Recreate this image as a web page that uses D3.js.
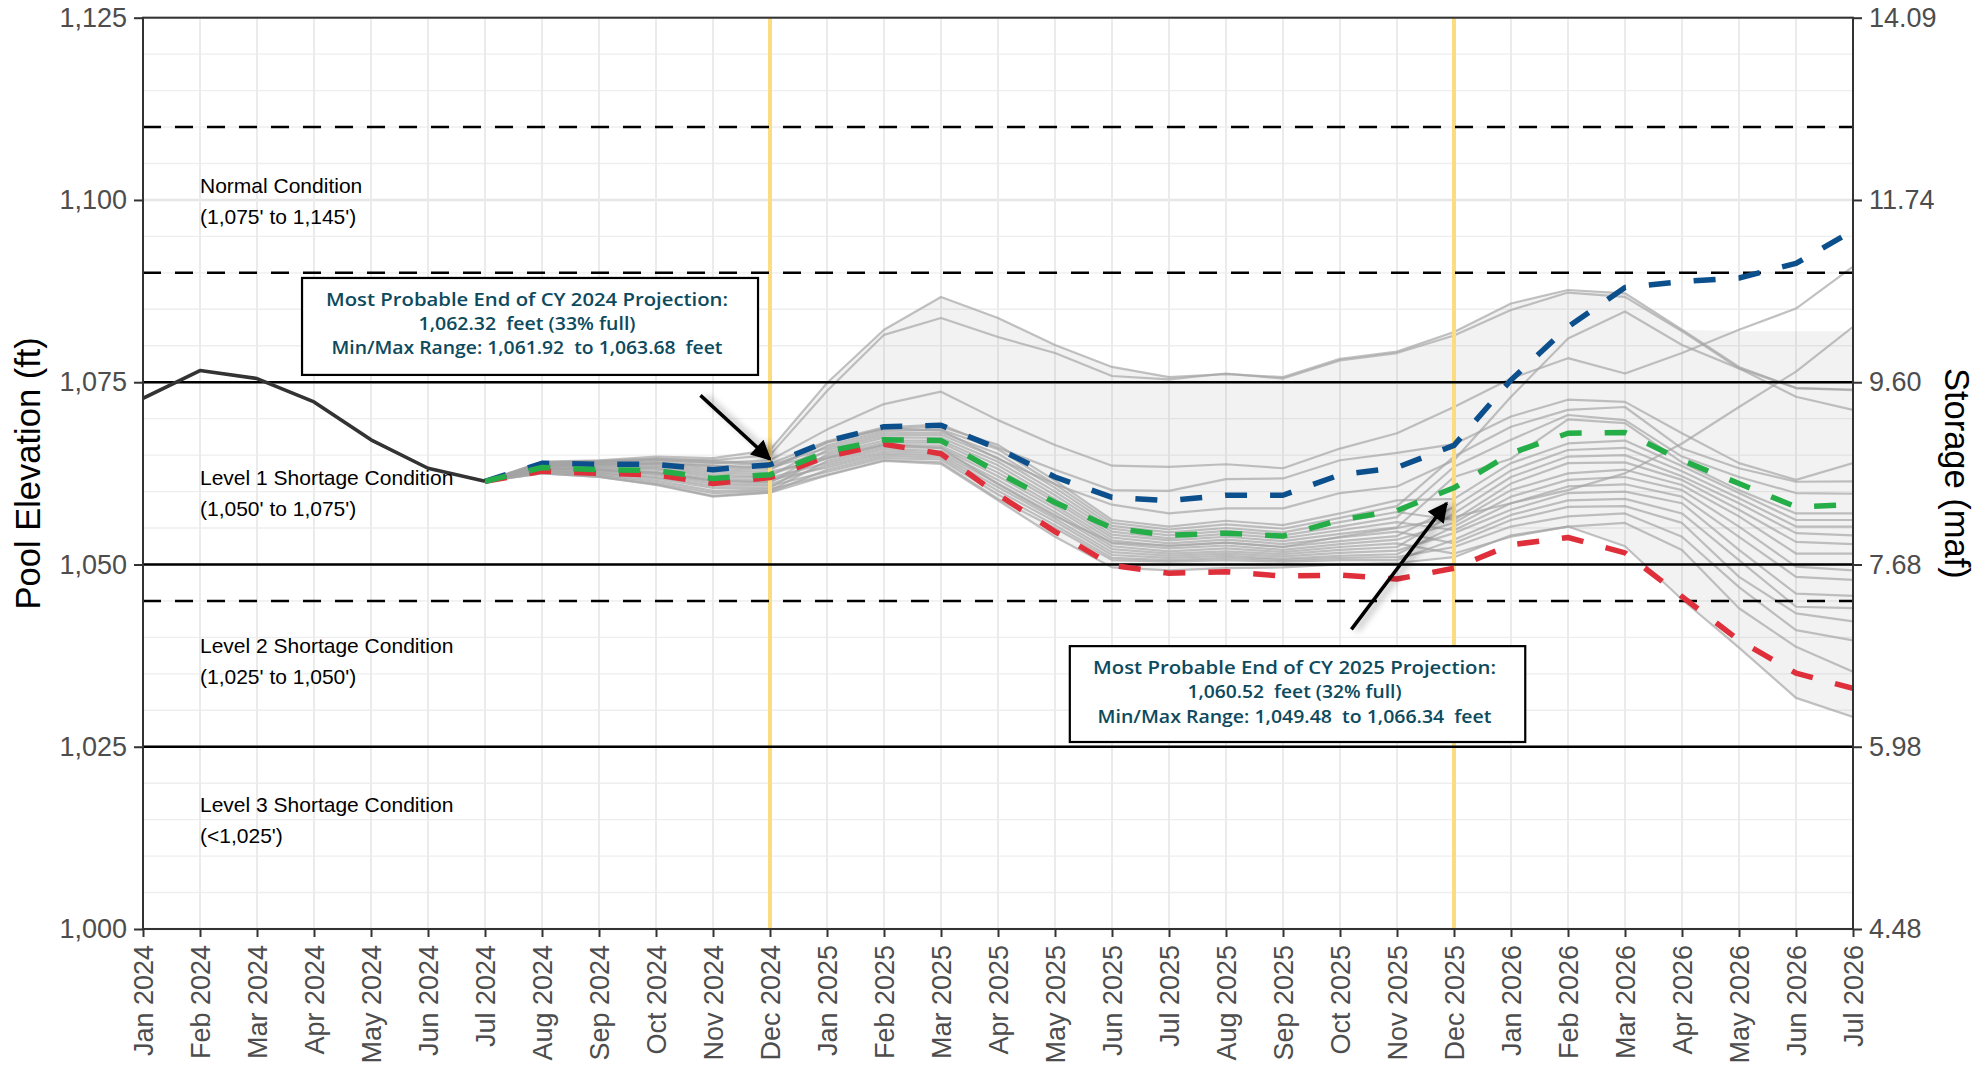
<!DOCTYPE html>
<html><head><meta charset="utf-8">
<script src="https://cdn.jsdelivr.net/npm/d3@7"></script>
<style>
body{margin:0;background:#fff;}
svg{display:block;}
</style></head><body>
<svg id="chart" width="1987" height="1069"></svg>
<script>
// ---------------- DATA ----------------
const months = ["Jan 2024","Feb 2024","Mar 2024","Apr 2024","May 2024","Jun 2024","Jul 2024","Aug 2024","Sep 2024","Oct 2024","Nov 2024","Dec 2024",
  "Jan 2025","Feb 2025","Mar 2025","Apr 2025","May 2025","Jun 2025","Jul 2025","Aug 2025","Sep 2025","Oct 2025","Nov 2025","Dec 2025",
  "Jan 2026","Feb 2026","Mar 2026","Apr 2026","May 2026","Jun 2026","Jul 2026"];
const elevTicks = [1000, 1025, 1050, 1075, 1100, 1125];
const storageLabels = ["4.48", "5.98", "7.68", "9.60", "11.74", "14.09"];
const solidRefs = [1075, 1050, 1025];
const dashedRefs = [1110, 1090, 1045];
const markerMonths = ["Dec 2024", "Dec 2025"];

// historical Jan 2024 - Jul 2024
const historical = [1072.8, 1076.6, 1075.5, 1072.3, 1067.1, 1063.2, 1061.4];
// projections Jul 2024 - Jul 2026
const projStart = "Jul 2024";
const maxProbable = [1061.4, 1063.87, 1063.74, 1063.74, 1063.0, 1063.68, 1066.9, 1068.9, 1069.1, 1065.9, 1062.0, 1059.2, 1058.75, 1059.5, 1059.5, 1062.3, 1063.3, 1066.34, 1075.3, 1082.6, 1088.0, 1088.8, 1089.3, 1091.3, 1095.8];
const mostProbable = [1061.4, 1063.3, 1063.0, 1062.9, 1061.8, 1062.32, 1065.5, 1067.1, 1067.0, 1062.6, 1058.5, 1055.0, 1054.0, 1054.3, 1053.9, 1056.1, 1057.4, 1060.52, 1065.25, 1068.0, 1068.1, 1064.3, 1061.1, 1057.9, 1058.2];
const minProbable = [1061.4, 1062.8, 1062.5, 1062.3, 1061.1, 1061.92, 1064.8, 1066.5, 1065.2, 1059.6, 1054.5, 1049.9, 1048.8, 1049.0, 1048.4, 1048.55, 1048.0, 1049.48, 1052.7, 1053.7, 1051.6, 1045.6, 1039.6, 1035.1, 1033.0];

const ribbonHigh = [1061.4, 1064.1, 1064.3, 1064.8, 1064.6, 1065.7, 1074.9, 1082.2, 1086.7, 1083.8, 1080.1, 1077.1, 1075.7, 1076.2, 1075.7, 1078.2, 1079.2, 1081.9, 1085.8, 1087.65, 1087.2, 1082.2, 1082.0, 1082.0, 1082.0];
const ribbonLow = [1061.4, 1062.5, 1062.0, 1060.9, 1059.3, 1059.85, 1062.2, 1064.2, 1063.8, 1058.8, 1053.8, 1049.6, 1049.2, 1049.5, 1049.6, 1050.0, 1050.2, 1051.0, 1053.8, 1055.2, 1052.5, 1045.2, 1038.6, 1031.7, 1029.1];

const traceT1 = [1061.4, 1064.1, 1064.3, 1064.8, 1064.6, 1065.7, 1074.9, 1082.2, 1086.7, 1083.8, 1080.1, 1077.1, 1075.7, 1076.1, 1075.7, 1078.2, 1079.2, 1081.9, 1085.8, 1087.65, 1087.2, 1082.2, 1077.1, 1074.2, 1074.0];
const traceT2 = [1061.4, 1063.9, 1064.1, 1064.5, 1064.3, 1065.0, 1073.8, 1081.5, 1083.8, 1081.2, 1079.0, 1075.85, 1075.4, 1076.2, 1075.5, 1078.0, 1079.0, 1081.4, 1084.9, 1087.3, 1086.7, 1082.0, 1076.9, 1073.0, 1071.2];
const traceU1 = [1061.4, 1063.8, 1064.0, 1064.3, 1063.9, 1064.3, 1068.5, 1072.0, 1073.7, 1069.8, 1066.4, 1063.55, 1063.4, 1063.75, 1063.2, 1065.9, 1068.0, 1071.6, 1075.5, 1078.3, 1076.2, 1079.0, 1082.2, 1085.1, 1090.85];
const traceT4 = [1061.4, 1063.6, 1063.7, 1063.9, 1063.5, 1063.2, 1066.8, 1068.6, 1068.4, 1064.5, 1061.0, 1058.2, 1057.0, 1057.7, 1057.7, 1059.8, 1060.7, 1064.3, 1073.0, 1081.0, 1084.7, 1080.1, 1076.9, 1074.2, 1073.9];
const traceT5 = [1061.4, 1063.2, 1063.0, 1062.6, 1061.5, 1061.3, 1064.6, 1066.4, 1066.0, 1061.0, 1056.6, 1053.0, 1052.6, 1053.0, 1052.4, 1053.8, 1055.0, 1056.5, 1058.4, 1060.2, 1062.5, 1066.6, 1071.6, 1076.45, 1082.6];
const traceL = [1061.4, 1062.5, 1062.0, 1060.9, 1059.3, 1059.85, 1062.2, 1064.2, 1063.8, 1058.8, 1053.8, 1049.6, 1049.2, 1049.5, 1049.6, 1050.0, 1050.2, 1051.0, 1054.0, 1055.2, 1052.5, 1045.2, 1038.6, 1031.7, 1029.1];
const traceB1 = [1061.4, 1064.0, 1064.2, 1064.5, 1064.2, 1063.8, 1066.9, 1068.8, 1069.2, 1066.0, 1063.0, 1060.2, 1060.1, 1061.7, 1061.8, 1064.3, 1065.3, 1066.5, 1070.3, 1072.6, 1072.3, 1068.0, 1063.9, 1061.6, 1063.9];
const traceB2 = [1061.4, 1063.7, 1063.8, 1063.8, 1063.2, 1063.0, 1066.7, 1068.6, 1068.9, 1066.4, 1061.5, 1056.1, 1055.2, 1056.0, 1055.4, 1057.0, 1058.8, 1059.0, 1063.9, 1066.6, 1067.0, 1063.5, 1059.8, 1056.1, 1056.1];
const traceB3 = [1061.4, 1063.5, 1063.3, 1063.2, 1062.3, 1062.1, 1066.3, 1068.3, 1068.5, 1065.8, 1061.0, 1055.7, 1054.8, 1055.5, 1054.9, 1056.4, 1058.0, 1064.8, 1068.9, 1071.2, 1071.6, 1065.9, 1063.2, 1061.35, 1061.4];
const traceB4 = [1061.4, 1064.0, 1064.1, 1064.3, 1064.0, 1063.6, 1066.0, 1068.0, 1068.1, 1065.2, 1060.5, 1055.3, 1054.4, 1055.0, 1054.4, 1055.8, 1057.2, 1056.1, 1061.1, 1063.9, 1064.0, 1061.6, 1057.5, 1053.1, 1052.8];
const traceB5 = [1061.4, 1063.2, 1062.9, 1062.5, 1061.4, 1061.3, 1065.7, 1067.7, 1067.8, 1064.6, 1060.0, 1054.9, 1054.0, 1054.6, 1054.0, 1055.2, 1056.5, 1063.4, 1067.1, 1070.5, 1069.8, 1064.8, 1062.0, 1059.8, 1059.7];
const traceB6 = [1061.4, 1063.8, 1063.9, 1064.0, 1063.6, 1063.3, 1065.4, 1067.4, 1067.4, 1064.1, 1059.5, 1054.5, 1053.6, 1054.2, 1053.6, 1054.7, 1055.8, 1054.7, 1058.4, 1060.7, 1061.0, 1059.3, 1053.8, 1048.3, 1047.9];
const traceB7 = [1061.4, 1062.8, 1062.5, 1061.8, 1060.5, 1060.5, 1065.1, 1067.0, 1067.0, 1063.6, 1059.0, 1054.1, 1053.3, 1053.8, 1053.2, 1054.2, 1055.1, 1062.0, 1064.5, 1069.9, 1069.4, 1064.0, 1060.2, 1057.0, 1057.0];
const traceB8 = [1061.4, 1063.5, 1063.5, 1063.4, 1062.6, 1062.4, 1064.8, 1066.7, 1066.7, 1063.1, 1058.6, 1053.7, 1052.9, 1053.4, 1052.8, 1053.7, 1054.5, 1052.9, 1056.1, 1057.9, 1058.0, 1055.7, 1048.3, 1043.3, 1042.2];
const traceB9 = [1061.4, 1063.6, 1063.6, 1063.6, 1062.9, 1062.7, 1064.5, 1066.4, 1066.3, 1062.6, 1058.1, 1053.3, 1052.5, 1053.0, 1052.4, 1053.2, 1053.9, 1057.9, 1062.9, 1065.7, 1066.0, 1062.8, 1059.1, 1055.2, 1055.2];
const traceB10 = [1061.4, 1062.6, 1062.2, 1061.2, 1059.8, 1060.1, 1064.2, 1066.1, 1066.0, 1062.1, 1057.7, 1052.9, 1052.2, 1052.6, 1052.0, 1052.8, 1053.4, 1055.7, 1060.2, 1062.5, 1063.0, 1060.9, 1056.6, 1051.5, 1051.5];
const traceB11 = [1061.4, 1063.3, 1063.2, 1063.0, 1062.0, 1061.9, 1063.9, 1065.8, 1065.6, 1061.6, 1057.2, 1052.5, 1051.8, 1052.2, 1051.7, 1052.4, 1052.9, 1051.5, 1053.8, 1055.2, 1055.7, 1052.0, 1044.0, 1038.7, 1035.3];
const traceB12 = [1061.4, 1063.0, 1062.8, 1062.3, 1061.1, 1061.0, 1063.6, 1065.5, 1065.3, 1061.1, 1056.8, 1052.1, 1051.5, 1051.8, 1051.4, 1052.0, 1052.4, 1057.0, 1062.0, 1064.8, 1065.0, 1062.1, 1058.4, 1054.3, 1054.0];
const traceB13 = [1061.4, 1063.2, 1063.0, 1062.7, 1061.7, 1061.6, 1063.3, 1065.2, 1065.0, 1060.6, 1056.3, 1051.7, 1051.2, 1051.5, 1051.1, 1051.6, 1051.9, 1054.3, 1057.5, 1059.8, 1060.0, 1058.4, 1052.0, 1046.0, 1045.7];
const traceB14 = [1061.4, 1062.5, 1062.0, 1061.0, 1059.4, 1059.9, 1063.0, 1064.9, 1064.7, 1060.1, 1055.9, 1051.3, 1050.9, 1051.2, 1050.8, 1051.2, 1051.4, 1055.2, 1059.3, 1061.6, 1062.0, 1060.2, 1055.2, 1049.7, 1049.2];
const traceB15 = [1061.4, 1062.9, 1062.6, 1062.0, 1060.8, 1060.8, 1062.7, 1064.6, 1064.4, 1059.6, 1055.4, 1050.9, 1050.6, 1050.9, 1050.6, 1050.9, 1051.0, 1052.4, 1055.2, 1056.6, 1057.0, 1053.8, 1046.9, 1041.0, 1039.6];
const traceB16 = [1061.4, 1062.8, 1062.3, 1061.5, 1060.1, 1060.3, 1062.3, 1064.3, 1064.0, 1059.0, 1055.0, 1050.6, 1050.4, 1050.6, 1050.4, 1050.6, 1050.6, 1053.4, 1056.8, 1058.8, 1059.0, 1057.0, 1050.6, 1044.2, 1044.0];

const conditionNames = ["Normal Condition", "Level 1 Shortage Condition", "Level 2 Shortage Condition", "Level 3 Shortage Condition"];
const conditionRanges = ["(1,075' to 1,145')", "(1,050' to 1,075')", "(1,025' to 1,050')", "(<1,025')"];
const conditionElev = [1100.9, 1060.9, 1037.8, 1016.1];

const box1Lines = ["Most Probable End of CY 2024 Projection:", "1,062.32  feet (33% full)", "Min/Max Range: 1,061.92  to 1,063.68  feet"];
const box2Lines = ["Most Probable End of CY 2025 Projection:", "1,060.52  feet (32% full)", "Min/Max Range: 1,049.48  to 1,066.34  feet"];

// ---------------- LAYOUT ----------------
const grayTraces = [traceT1, traceT2, traceU1, traceT4, traceT5, traceL, traceB1, traceB2, traceB3, traceB4, traceB5, traceB6,
  traceB7, traceB8, traceB9, traceB10, traceB11, traceB12, traceB13, traceB14, traceB15, traceB16];
const p0 = months.indexOf(projStart);
const FONT = '"Liberation Sans", Arial, sans-serif';

const svg = d3.select("#chart");
const L = 143, R = 1853, T = 17.7, B = 929;
const x = d3.scaleLinear().domain([0, months.length - 1]).range([L, R]);
const y = d3.scaleLinear().domain([1000, 1125]).range([B, T]);

const defs = svg.append("defs");
defs.append("clipPath").attr("id", "plotclip").append("rect")
  .attr("x", L).attr("y", T).attr("width", R - L).attr("height", B - T);
defs.append("marker").attr("id", "arrowhead").attr("viewBox", "0 0 10 10")
  .attr("refX", 9).attr("refY", 5).attr("markerWidth", 24).attr("markerHeight", 20)
  .attr("markerUnits", "userSpaceOnUse").attr("orient", "auto")
  .append("path").attr("d", "M0,0 L10,5 L0,10 z").attr("fill", "#000");
const flt = defs.append("filter").attr("id", "shadow").attr("x", "-50%").attr("y", "-50%").attr("width", "200%").attr("height", "200%");
flt.append("feDropShadow").attr("dx", 5).attr("dy", 1).attr("stdDeviation", 3.5)
  .attr("flood-color", "#000").attr("flood-opacity", 0.35);

// grid
const grid = svg.append("g");
grid.selectAll(".gy").data(d3.range(1000, 1126, 5)).join("line")
  .attr("x1", L).attr("x2", R).attr("y1", d => y(d)).attr("y2", d => y(d))
  .attr("stroke", d => d % 25 === 0 ? "#e6e6e6" : "#eeeeee")
  .attr("stroke-width", d => d % 25 === 0 ? 2.4 : 1.4);
grid.selectAll(".gx").data(d3.range(0, months.length)).join("line")
  .attr("x1", d => x(d)).attr("x2", d => x(d)).attr("y1", T).attr("y2", B)
  .attr("stroke", "#ebebeb").attr("stroke-width", 2);

const plot = svg.append("g").attr("clip-path", "url(#plotclip)");

// ribbon
const area = d3.area()
  .x((d, i) => x(p0 + i))
  .y0((d, i) => y(ribbonLow[i]))
  .y1(d => y(d));
plot.append("path").datum(ribbonHigh).attr("d", area)
  .attr("fill", "#7f7f7f").attr("fill-opacity", 0.1);

// condition labels
const lab = svg.append("g").style("font-family", FONT).style("font-size", "21px").attr("fill", "#000");
conditionNames.forEach((n, i) => {
  lab.append("text").attr("x", x(1)).attr("y", y(conditionElev[i])).text(n);
  lab.append("text").attr("x", x(1)).attr("y", y(conditionElev[i]) + 31).text(conditionRanges[i]);
});

// gray traces
const projLine = d3.line().x((d, i) => x(p0 + i)).y(d => y(d));
plot.append("g").selectAll("path").data(grayTraces).join("path")
  .attr("d", projLine).attr("fill", "none")
  .attr("stroke", "#a3a3a3").attr("stroke-opacity", 0.68).attr("stroke-width", 2.2)
  .attr("stroke-linejoin", "round");

// yellow lines
plot.selectAll(".yl").data(markerMonths).join("line")
  .attr("x1", d => x(months.indexOf(d))).attr("x2", d => x(months.indexOf(d)))
  .attr("y1", T).attr("y2", B).attr("stroke", "#fcdc80").attr("stroke-width", 4);

// reference lines
plot.selectAll(".sr").data(solidRefs).join("line")
  .attr("x1", L).attr("x2", R).attr("y1", d => y(d)).attr("y2", d => y(d))
  .attr("stroke", "#000").attr("stroke-width", 2.5);
plot.selectAll(".dr").data(dashedRefs).join("line")
  .attr("x1", L).attr("x2", R).attr("y1", d => y(d)).attr("y2", d => y(d))
  .attr("stroke", "#000").attr("stroke-width", 2.5).attr("stroke-dasharray", "18,14");

// dashed projection series
const dashed = [
  {v: minProbable, c: "#de2f3b"},
  {v: maxProbable, c: "#0c4f8d"},
  {v: mostProbable, c: "#25ae48"}
];
plot.append("g").selectAll("path").data(dashed).join("path")
  .attr("d", d => projLine(d.v)).attr("fill", "none")
  .attr("stroke", d => d.c).attr("stroke-width", 5.5)
  .attr("stroke-dasharray", "22,23").attr("stroke-linejoin", "round");

// historical
const histLine = d3.line().x((d, i) => x(i)).y(d => y(d));
plot.append("path").datum(historical).attr("d", histLine).attr("fill", "none")
  .attr("stroke", "#333").attr("stroke-width", 3.6).attr("stroke-linejoin", "round");

// panel border
svg.append("rect").attr("x", L).attr("y", T).attr("width", R - L).attr("height", B - T)
  .attr("fill", "none").attr("stroke", "#333").attr("stroke-width", 2);

// axes
const tickCol = "#4d4d4d";
const ax = svg.append("g").attr("transform", `translate(${L},0)`)
  .call(d3.axisLeft(y).tickValues(elevTicks).tickFormat(d3.format(",")).tickSize(9).tickPadding(7));
const ar = svg.append("g").attr("transform", `translate(${R},0)`)
  .call(d3.axisRight(y).tickValues(elevTicks).tickFormat((d, i) => storageLabels[i]).tickSize(9).tickPadding(7));
const ab = svg.append("g").attr("transform", `translate(0,${B})`)
  .call(d3.axisBottom(x).tickValues(d3.range(0, months.length)).tickFormat(i => months[i]).tickSize(8));
ab.selectAll("text").attr("transform", "rotate(-90)").attr("x", -16).attr("y", 0)
  .attr("dy", "0.35em").style("text-anchor", "end");
[ax, ar, ab].forEach(g => {
  g.select(".domain").remove();
  g.selectAll("line").attr("stroke", "#333").attr("stroke-width", 2);
  g.selectAll("text").style("font-size", "27px").attr("fill", tickCol).style("font-family", FONT);
});

// axis titles
svg.append("text").attr("transform", `translate(28,${(T + B) / 2}) rotate(-90)`)
  .attr("text-anchor", "middle").attr("dy", "0.35em").style("font-size", "34.5px").style("font-family", FONT).attr("fill", "#000")
  .text("Pool Elevation (ft)");
svg.append("text").attr("transform", `translate(1957,${(T + B) / 2}) rotate(90)`)
  .attr("text-anchor", "middle").attr("dy", "0.35em").style("font-size", "34.5px").style("font-family", FONT).attr("fill", "#000")
  .text("Storage (maf)");

// annotations (positions in data units)
const annotations = [
  {lines: box1Lines, widths: [402, 217, 391], bx0: 2.79, bx1: 10.79, by0: 1089.3, by1: 1076.0, from: [9.78, 1073.2], to: [11.0, 1064.43]},
  {lines: box2Lines, widths: [403, 214, 394], bx0: 16.26, bx1: 24.25, by0: 1038.8, by1: 1025.65, from: [21.2, 1041.1], to: [22.87, 1058.4]}
];
annotations.forEach(a => {
  svg.append("line").attr("x1", x(a.from[0])).attr("y1", y(a.from[1]))
    .attr("x2", x(a.to[0])).attr("y2", y(a.to[1]))
    .attr("stroke", "#000").attr("stroke-width", 3.5).attr("marker-end", "url(#arrowhead)")
    .attr("filter", "url(#shadow)");
  const g = svg.append("g");
  g.append("rect").attr("x", x(a.bx0)).attr("y", y(a.by0))
    .attr("width", x(a.bx1) - x(a.bx0)).attr("height", y(a.by1) - y(a.by0))
    .attr("fill", "#fff").attr("stroke", "#000").attr("stroke-width", 2.2);
  const cx = (x(a.bx0) + x(a.bx1)) / 2 - 3;
  const offs = [21.5, 45.5, 70];
  a.lines.forEach((t, i) => {
    g.append("text").attr("x", cx).attr("y", y(a.by0) + offs[i]).attr("dy", "0.35em")
      .attr("text-anchor", "middle").style("white-space", "pre")
      .style("font-family", '"Open Sans", "Noto Sans", sans-serif').style("font-weight", 600)
      .style("font-size", "18.5px").attr("fill", "#0d4a5d")
      .attr("textLength", a.widths[i]).attr("lengthAdjust", "spacingAndGlyphs")
      .text(t);
  });
});
</script></body></html>
